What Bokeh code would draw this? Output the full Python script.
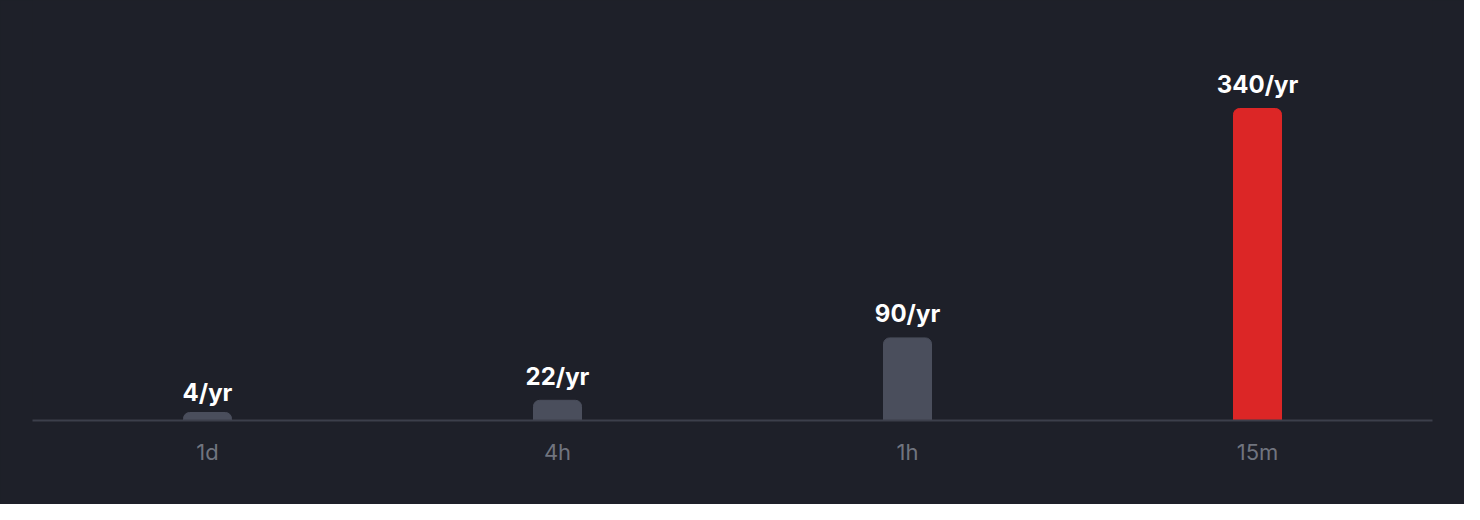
from bokeh.plotting import figure
from bokeh.models import ColumnDataSource, Range1d
from bokeh.core.properties import value
from bokeh.embed import file_html
from bokeh.resources import INLINE

categories = ["1d", "4h", "1h", "15m"]
rates = [4, 22, 90, 340]
labels = ["4/yr", "22/yr", "90/yr", "340/yr"]
colors = ["#4a4e5c", "#4a4e5c", "#4a4e5c", "#dc2626"]

BG = "#1e2029"
W, H = 1464, 504
frame_h = 420
ymax = 457.7
min_px = 8
min_val = min_px * ymax / frame_h
bar_tops = [max(v, min_val) for v in rates]

src = ColumnDataSource(dict(x=categories, top=bar_tops, val=rates, lab=labels, color=colors))

p = figure(x_range=categories, y_range=Range1d(0, ymax), width=W, height=H,
           output_backend="svg", toolbar_location=None,
           background_fill_color=BG, border_fill_color=BG,
           outline_line_color=None,
           min_border_left=32, min_border_right=32, min_border_top=0, min_border_bottom=84)
p.styles = {"background-color": BG}
p.grid.visible = False
p.yaxis.visible = False

p.vbar(x="x", top="top", bottom=0, width=48/350, color="color", source=src,
       border_radius=(6, 6, 0, 0))

p.text(x="x", y="val", text="lab", source=src, text_align="center",
       text_baseline="alphabetic", y_offset=-24, text_color="#ffffff",
       text_font=value("Inter"), text_font_style="bold", text_font_size="24px")

ax = p.xaxis[0]
ax.axis_line_color = "#3c3f4b"
ax.axis_line_width = 2
ax.major_tick_line_color = None
ax.minor_tick_line_color = None
ax.major_label_text_color = "#70747f"
ax.major_label_text_font = "Inter"
ax.major_label_text_font_size = "22px"
ax.major_label_standoff = 12

open("out.html", "w").write(file_html(p, INLINE))
